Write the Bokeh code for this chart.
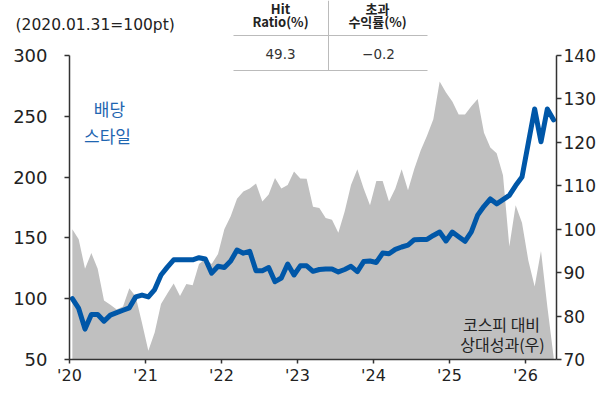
from bokeh.plotting import figure
from bokeh.models import Range1d, LinearAxis, FixedTicker, Label, ColumnDataSource
from bokeh.embed import file_html
from bokeh.resources import INLINE

# ---------------- data ----------------
year_labels = ["'20", "'21", "'22", "'23", "'24", "'25", "'26"]
month_index = list(range(77))          # months since Jan 2020

dividend_style = [
    100, 92, 75, 87, 87, 81.5, 86.5, 88.5, 90.5, 92.5,
    101.5, 103, 101.5, 107.5, 119.5, 126, 132, 132, 132, 132,
    133.7, 132.6, 121, 126.7, 125.6, 131, 140, 137.4, 139, 123,
    123, 125.6, 114, 117, 128.5, 119.5, 127, 127, 122.5, 124,
    124.5, 124.5, 122, 124, 126.6, 122.3, 130.5, 131, 129.8, 137.5,
    137, 140.6, 142.5, 144, 148.5, 148.7, 148.7, 152, 154.8, 147.5,
    154.8, 151, 147.2, 155, 168.7, 176, 182, 178, 181.5, 185,
    193, 200, 228, 256, 229, 256, 247,
]
relative_perf = [
    100, 97.7, 90.9, 94.5, 90.9, 83.6, 82.6, 81.5, 82.2, 86.4,
    84.5, 78.4, 72, 76.2, 82.8, 85.2, 87.5, 84.6, 87.4, 87.1,
    92, 93.2, 92, 94.3, 100, 103, 107, 108.7, 109.4, 110.5,
    106.4, 108, 111.8, 109.4, 110.2, 113.3, 111.7, 111.6, 105.2, 104.9,
    102.6, 102.2, 99.2, 104.1, 110.2, 113.8, 109.4, 105.5, 111.1, 111.1,
    106.4, 109.4, 113.8, 109, 113.9, 118.1, 121.5, 125.3, 134, 131.5,
    129.4, 126.4, 126.4, 128.3, 130, 122.2, 118.8, 117.5, 112.4, 96,
    105.5, 101.5, 92.8, 86.8, 95, 82.2, 70.5,
]
hit_ratio = "49.3"
excess_return = "\u22120.2"
table_head_1 = ["Hit", "Ratio(%)"]
table_head_2 = ["초과", "수익률(%)"]
left_ticks = [50, 100, 150, 200, 250, 300]
right_ticks = [70, 80, 90, 100, 110, 120, 130, 140]

# ---------------- geometry (picture px) ----------------
W, H = 597, 384
FL, FR, FB, Y300 = 69, 556, 359, 55   # left axis, right axis, x axis, 300-line
PXM = 6.333                           # px per month
L_PER = (FB - Y300) / 250.0           # px per left-axis unit
R_PER = (FB - Y300) / 70.0            # px per right-axis unit

def dx(px):   # picture px -> months
    return (px - FL) / PXM

def dy(py):   # picture px -> left-axis units
    return 50 + (FB - py) / L_PER

def ry(py):   # picture px -> right-axis units
    return 70 + (FB - py) / R_PER

p = figure(width=W, height=H, output_backend="svg", toolbar_location=None,
           x_range=Range1d(dx(0), dx(W)), y_range=Range1d(dy(H), dy(0)),
           min_border=0, min_border_left=0, min_border_right=0,
           min_border_top=0, min_border_bottom=0, title=None)
p.extra_y_ranges = {"right": Range1d(ry(H), ry(0))}
p.outline_line_color = None
p.grid.visible = False

xpos = [m + 0.45 for m in month_index]
src = ColumnDataSource(dict(x=xpos, blue=dividend_style, gray=relative_perf))
p.varea(x="x", y1=70, y2="gray", source=src, y_range_name="right",
        fill_color="#C0C0C0", fill_alpha=1)
p.line(x="x", y="blue", source=src, line_color="#0057A8", line_width=5,
       line_join="round", line_cap="round")

# ---------------- axes ----------------
LAT = "DejaVu Sans"
KR = "Noto Sans CJK KR"
AX = "#333333"

def style(ax, size):
    ax.axis_line_color = AX
    ax.axis_line_width = 1.5
    ax.major_tick_line_color = AX
    ax.major_tick_line_width = 1.5
    ax.major_tick_out = 5
    ax.major_tick_in = 0
    ax.minor_tick_out = 0
    ax.minor_tick_in = 0
    ax.major_label_text_font = LAT
    ax.major_label_text_font_size = size
    ax.major_label_text_color = "#222222"

ya = p.yaxis[0]
ya.ticker = FixedTicker(ticks=left_ticks)
ya.bounds = (50, 300)
ya.fixed_location = dx(FL)
style(ya, "18px")
ya.major_label_standoff = 17

ra = LinearAxis(y_range_name="right", ticker=FixedTicker(ticks=right_ticks),
                bounds=(70, 140), fixed_location=dx(FR))
style(ra, "17px")
ra.major_label_standoff = 2
p.add_layout(ra, "right")

xa = p.xaxis[0]
xa.ticker = FixedTicker(ticks=[12 * i for i in range(len(year_labels))])
xa.major_label_overrides = {12 * i: lab for i, lab in enumerate(year_labels)}
xa.bounds = (dx(FL), dx(FR))
xa.fixed_location = dy(FB)
style(xa, "16px")
xa.major_tick_out = 4
xa.major_label_standoff = 2

# ---------------- table & notes ----------------
TL = "#BBBBBB"
p.segment(x0=[dx(233), dx(233), dx(328)], y0=[dy(35), dy(70), dy(0)],
          x1=[dx(427), dx(427), dx(328)], y1=[dy(35), dy(70), dy(70)],
          line_color=TL, line_width=1)

def lab(txt, px, py, font, size, color, style="normal", align="center"):
    p.add_layout(Label(x=dx(px), y=dy(py), text=txt, text_font=font,
                       text_font_size=size, text_color=color,
                       text_font_style=style, text_align=align,
                       text_baseline="middle"))

lab("(2020.01.31=100pt)", 15, 24, LAT, "15.5px", "#222222", align="left")
lab(table_head_1[0], 280, 7.5, KR, "13px", "#222222", "bold")
lab(table_head_1[1], 280, 21, KR, "13px", "#222222", "bold")
lab(table_head_2[0], 377, 7.5, KR, "13px", "#222222", "bold")
lab(table_head_2[1], 377, 21, KR, "13px", "#222222", "bold")
lab(hit_ratio, 280, 53, LAT, "13.5px", "#333333")
lab(excess_return, 378, 53, LAT, "13.5px", "#333333")
lab("배당", 109, 108, KR, "17px", "#1F66B1")
lab("스타일", 107, 135, KR, "17px", "#1F66B1")
lab("코스피 대비", 501, 323, KR, "16px", "#222222")
lab("상대성과(우)", 502, 343, KR, "16px", "#222222")

open("out.html", "w").write(file_html(p, INLINE))
